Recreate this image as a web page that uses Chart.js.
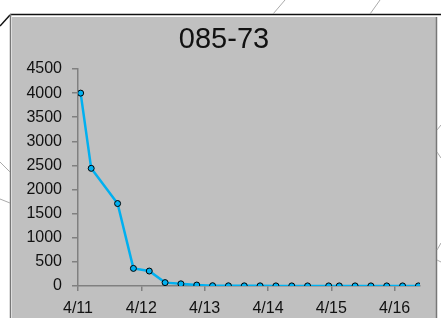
<!DOCTYPE html>
<html>
<head>
<meta charset="utf-8">
<script src="https://cdn.jsdelivr.net/npm/chart.js@4/dist/chart.umd.min.js"></script>
<style>
  html, body { margin: 0; padding: 0; background: #fff; }
  #wrap { width: 441px; height: 318px; position: relative; }
</style>
</head>
<body>
<div id="wrap"><canvas id="myChart" width="441" height="318"></canvas></div>
<script>
// sample times, hours after 4/11 00:00
const sampleHours = [1, 5, 15, 21, 27, 33, 39, 45, 51, 57, 63, 69, 75, 81, 87, 95, 99, 105, 111, 117, 123, 129];
const counts = [4000, 2440, 1710, 365, 310, 70, 45, 20, 6, 4, 3, 3, 2, 2, 2, 2, 2, 2, 2, 2, 2, 2];
const dayLabels = ["4/11", "4/12", "4/13", "4/14", "4/15", "4/16"];
const yTicks = [0, 500, 1000, 1500, 2000, 2500, 3000, 3500, 4000, 4500];
const chartTitle = "085-73";

const points = sampleHours.map((h, i) => ({ x: h / 24, y: counts[i] }));

// grey panel, border and the stray lines around it
const framePlugin = {
  id: "frame",
  beforeDraw(chart) {
    const c = chart.ctx;
    c.save();
    c.fillStyle = "#fff";
    c.fillRect(0, 0, chart.width, chart.height);
    c.fillStyle = "#c0c0c0";
    c.fillRect(12, 17, 424, 301);
    c.strokeStyle = "#111";
    c.lineWidth = 1.5;
    c.beginPath(); c.moveTo(10, 14.5); c.lineTo(441, 14.5); c.stroke();
    c.beginPath(); c.moveTo(0, 26); c.lineTo(10, 15); c.stroke();
    c.strokeStyle = "#777";
    c.lineWidth = 1.5;
    c.beginPath(); c.moveTo(10.5, 14); c.lineTo(10.5, 318); c.stroke();
    c.beginPath(); c.moveTo(436.5, 17); c.lineTo(436.5, 318); c.stroke();
    c.strokeStyle = "#aaa";
    c.lineWidth = 1;
    const stray = [[273, 14, 285, 0], [370, 14, 380, 0], [0, 162, 10, 172], [0, 199, 10, 203],
                   [437, 130, 441, 125], [437, 152, 441, 158], [437, 250, 441, 243], [437, 260, 441, 262]];
    for (const s of stray) {
      c.beginPath(); c.moveTo(s[0], s[1]); c.lineTo(s[2], s[3]); c.stroke();
    }
    c.fillStyle = "#111";
    c.font = "29px 'Liberation Sans', Arial, sans-serif";
    c.textAlign = "center";
    c.textBaseline = "middle";
    c.fillText(chartTitle, 224, 40);
    c.restore();
  }
};

new Chart(document.getElementById("myChart"), {
  type: "line",
  data: {
    datasets: [{
      label: chartTitle,
      data: points,
      borderColor: "#00b0f0",
      borderWidth: 2.5,
      backgroundColor: "#00b0f0",
      pointBackgroundColor: "#00b0f0",
      pointBorderColor: "#000",
      pointBorderWidth: 1,
      pointRadius: 3,
      tension: 0
    }]
  },
  options: {
    responsive: false,
    animation: false,
    layout: { padding: { top: 69, right: 21, left: 0, bottom: 0 } },
    plugins: { legend: { display: false }, title: { display: false }, tooltip: { enabled: false } },
    scales: {
      x: {
        type: "linear",
        min: 0,
        max: 5.4,
        afterFit: (s) => { s.height = 32; },
        afterBuildTicks: (s) => { s.ticks = dayLabels.map((d, i) => ({ value: i })); },
        ticks: {
          callback: (v) => dayLabels[v],
          color: "#111",
          padding: 8,
          maxRotation: 0,
          font: { family: "'Liberation Sans', Arial, sans-serif", size: 16 }
        },
        grid: { drawOnChartArea: false, drawTicks: true, tickLength: 5, color: "#808080", lineWidth: 1.5 },
        border: { color: "#808080", width: 1.5 }
      },
      y: {
        min: 0,
        max: 4500,
        afterFit: (s) => { s.width = 78; },
        afterBuildTicks: (s) => { s.ticks = yTicks.map(v => ({ value: v })); },
        ticks: {
          callback: (v) => String(v),
          color: "#111",
          padding: 10,
          font: { family: "'Liberation Sans', Arial, sans-serif", size: 16 }
        },
        grid: { drawOnChartArea: false, drawTicks: true, tickLength: 6, color: "#808080", lineWidth: 1.5 },
        border: { color: "#808080", width: 1.5 }
      }
    }
  },
  plugins: [framePlugin]
});
</script>
</body>
</html>
